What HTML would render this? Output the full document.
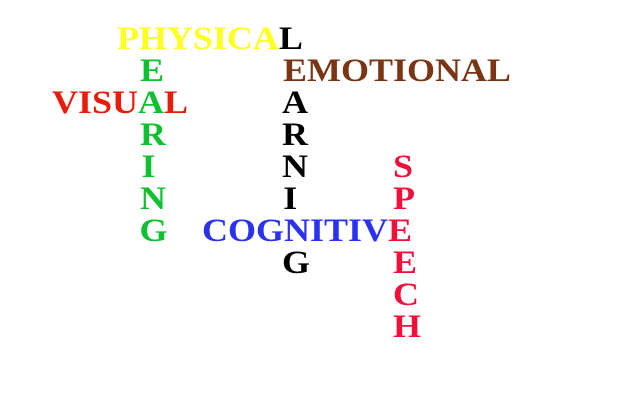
<!DOCTYPE html>
<html><head><meta charset="utf-8"><style>
html,body{margin:0;padding:0;background:#fff;width:640px;height:400px;overflow:hidden}
svg{display:block}
text{font-family:"Liberation Serif",serif;font-weight:bold;font-size:33px}
</style></head><body>
<svg width="640" height="400" xmlns="http://www.w3.org/2000/svg">
<rect width="640" height="400" fill="#fff"/>
<g transform="scale(1.091,1)">
<text x="107.2" y="49"><tspan fill="#ffff22">PHYSICA</tspan><tspan fill="#000">L</tspan></text>
<text x="259.4" y="81" fill="#7a3514">EMOTIONAL</text>
<text x="47.7" y="113"><tspan fill="#e81c0c">VISU</tspan><tspan fill="#10c030">A</tspan><tspan fill="#e81c0c">L</tspan></text>
<text x="185.2" y="241"><tspan fill="#2a32f0">COGNITIV</tspan><tspan fill="#f0103a">E</tspan></text>
<g fill="#10c030">
<text x="128.3" y="81">E</text>
<text x="128.3" y="145">R</text>
<text x="129.7" y="177">I</text>
<text x="128.3" y="209">N</text>
<text x="127.9" y="241">G</text>
</g>
<g fill="#000">
<text x="258.5" y="113">A</text>
<text x="258.5" y="145">R</text>
<text x="258.5" y="177">N</text>
<text x="259.6" y="209">I</text>
<text x="258.5" y="273">G</text>
</g>
<g fill="#f0103a">
<text x="360.2" y="177">S</text>
<text x="360.2" y="209">P</text>
<text x="360.2" y="273">E</text>
<text x="360.2" y="305">C</text>
<text x="360.2" y="337">H</text>
</g>
</g>
</svg>
</body></html>
